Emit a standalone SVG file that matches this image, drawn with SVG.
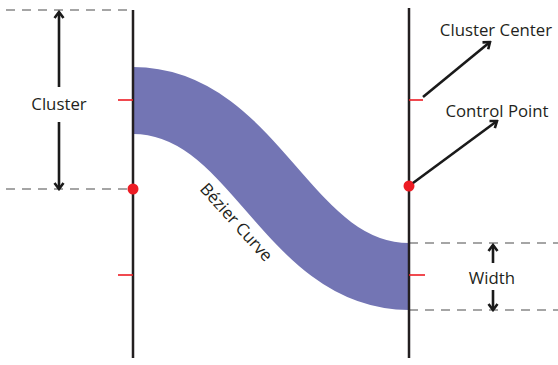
<svg xmlns="http://www.w3.org/2000/svg" width="558" height="365" viewBox="0 0 558 365">
  <style>
    .axis { stroke: #231f20; stroke-width: 2.5; fill: none; }
    .dash { stroke: #4d4d4d; stroke-width: 1.2; stroke-dasharray: 9 7; fill: none; }
    .tick { stroke: #ed1c24; stroke-width: 1.6; fill: none; }
    .dot { fill: #ed1c24; }
    .arrow { stroke: #1a1a1a; stroke-width: 2.6; fill: none; }
    .band { stroke: #7375b4; stroke-width: 67; fill: none; stroke-linecap: butt; }
    text { font-family: "Open Sans", "Noto Sans", sans-serif; font-size: 16.8px; fill: #231f20; }
  </style>
  <defs>
    <marker id="head" markerUnits="userSpaceOnUse" markerWidth="12" markerHeight="12" viewBox="0 0 12 12" refX="10" refY="6" orient="auto">
      <path d="M4,1.5 L10,6 L4,10.5" fill="none" stroke="#1a1a1a" stroke-width="2.6"/>
    </marker>
  </defs>

  <g id="band">
    <path class="band" d="M133,100.5 C256,100.5 286,276.5 409,276.5"/>
    <text transform="translate(232,226) rotate(48)" text-anchor="middle">Bézier Curve</text>
  </g>

  <g id="guides">
    <line class="dash" x1="6" y1="10" x2="133" y2="10"/>
    <line class="dash" x1="6" y1="189" x2="128" y2="189"/>
    <line class="dash" x1="409" y1="243" x2="558" y2="243"/>
    <line class="dash" x1="409" y1="310" x2="558" y2="310"/>
  </g>

  <g id="left-axis">
    <line class="axis" x1="133" y1="10" x2="133" y2="358"/>
    <line class="tick" x1="118" y1="100" x2="133" y2="100"/>
    <line class="tick" x1="118" y1="275" x2="133" y2="275"/>
    <circle class="dot" cx="133" cy="189" r="5.5"/>
  </g>

  <g id="right-axis">
    <line class="axis" x1="409" y1="8" x2="409" y2="358"/>
    <line class="tick" x1="409" y1="100" x2="423" y2="100"/>
    <line class="tick" x1="409" y1="275" x2="425" y2="275"/>
    <circle class="dot" cx="409" cy="186" r="5.5"/>
  </g>

  <g id="connectors">
    <line class="arrow" x1="59" y1="87" x2="59" y2="12" marker-end="url(#head)"/>
    <line class="arrow" x1="59" y1="122" x2="59" y2="189" marker-end="url(#head)"/>
    <line class="arrow" x1="423" y1="97" x2="490" y2="42" marker-end="url(#head)"/>
    <line class="arrow" x1="413" y1="183" x2="497" y2="121" marker-end="url(#head)"/>
    <line class="arrow" x1="493" y1="263" x2="493" y2="245" marker-end="url(#head)"/>
    <line class="arrow" x1="493" y1="290" x2="493" y2="310" marker-end="url(#head)"/>
  </g>

  <g id="labels">
    <text x="59" y="110" text-anchor="middle">Cluster</text>
    <text x="496" y="36" text-anchor="middle">Cluster Center</text>
    <text x="497" y="117" text-anchor="middle">Control Point</text>
    <text x="492" y="284" text-anchor="middle">Width</text>
  </g>
</svg>
